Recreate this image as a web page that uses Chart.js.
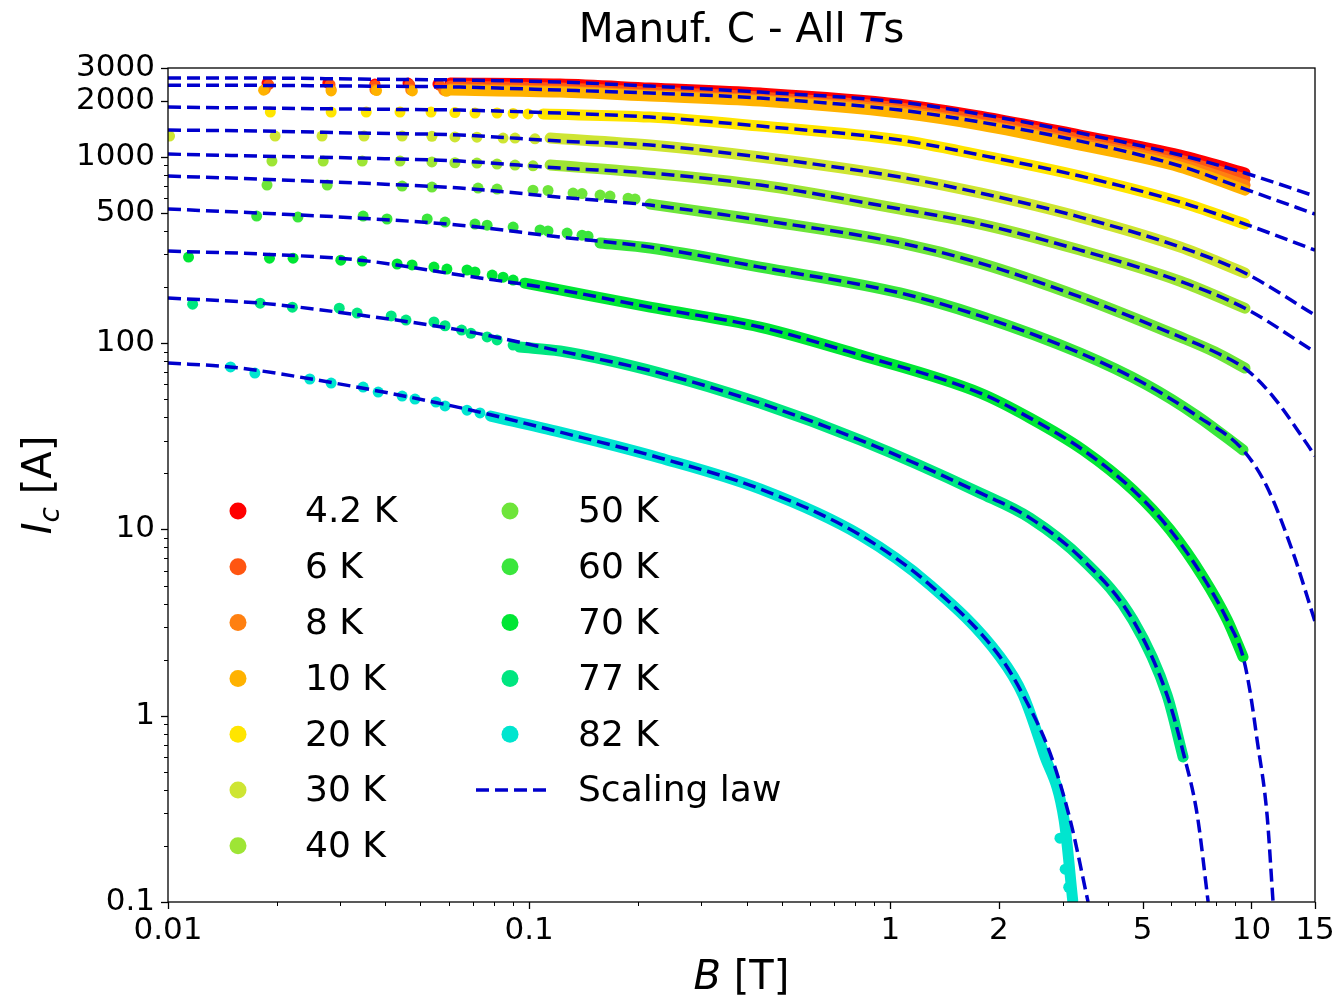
<!DOCTYPE html>
<html>
<head>
<meta charset="utf-8">
<script src="https://cdn.jsdelivr.net/npm/chart.js@4.4.0/dist/chart.umd.min.js"></script>
<style>
    body { margin: 0; background: #fff; }
    #wrap { width: 1335px; height: 998px; }
</style>
</head>
<body>
<div id="wrap"><canvas id="myChart" width="1335" height="998"></canvas></div>
<script>
// Temperatures and colours
const temps = ['4.2 K', '6 K', '8 K', '10 K', '20 K', '30 K', '40 K', '50 K', '60 K', '70 K', '77 K', '82 K'];
const colors = ['#ff0000', '#ff5511', '#ff8011', '#ffb200', '#ffe500', '#cee533', '#9ee535', '#6ee53a', '#3ae63c', '#00e634', '#00e680', '#00e5cf'];

// Axis ticks
const xTicks = [0.01, 0.1, 1, 2, 5, 10, 15];
const xTickLabels = ['0.01', '0.1', '1', '2', '5', '10', '15'];
const yTicks = [0.1, 1, 10, 100, 500, 1000, 2000, 3000];
const yTickLabels = ['0.1', '1', '10', '100', '500', '1000', '2000', '3000'];

// Measured Ic (A) vs B (T): sparse low-field points
const dots42 = [[0.0188, 2490], [0.0277, 2490], [0.0374, 2460], [0.0462, 2490], [0.0559, 2460]];
const dots6 = [[0.0190, 2440], [0.0281, 2440], [0.0374, 2420], [0.0467, 2440], [0.0566, 2420]];
const dots8 = [[0.0186, 2310], [0.0283, 2290], [0.0374, 2300], [0.0470, 2290], [0.0580, 2280]];
const dots10 = [[0.0184, 2280], [0.0283, 2260], [0.0378, 2270], [0.0475, 2260], [0.0590, 2250]];
const dots20 = [[0.0192, 1740], [0.0283, 1740], [0.0354, 1740], [0.0439, 1740], [0.0535, 1740], [0.0623, 1730], [0.0708, 1720], [0.0815, 1720], [0.0903, 1710], [0.0993, 1700]];
const dots30 = [[0.0101, 1293], [0.0198, 1293], [0.0267, 1293], [0.0349, 1293], [0.0445, 1293], [0.0538, 1290], [0.0623, 1280], [0.0717, 1275], [0.0847, 1262], [0.0914, 1262], [0.1038, 1250]];
const dots40 = [[0.0194, 949], [0.0269, 949], [0.0345, 949], [0.0439, 949], [0.0538, 940], [0.0623, 930], [0.0717, 926], [0.0815, 915], [0.0914, 904], [0.1025, 895]];
const dots50 = [[0.0188, 706], [0.0276, 706], [0.0445, 697], [0.0538, 689], [0.0722, 680], [0.0815, 672], [0.1025, 663], [0.1128, 660], [0.1323, 639], [0.1401, 635], [0.1572, 624], [0.1675, 616], [0.1879, 600], [0.1965, 594]];
const dots60 = [[0.0176, 481], [0.0229, 475], [0.0347, 481], [0.0404, 464], [0.0522, 464], [0.0585, 447], [0.0708, 436], [0.0765, 430], [0.0903, 420], [0.1072, 405], [0.1128, 400], [0.1274, 390], [0.1401, 380], [0.1456, 375]];
const dots70 = [[0.0114, 290], [0.0191, 286], [0.0222, 286], [0.0301, 279], [0.0345, 276], [0.0431, 266], [0.0474, 263], [0.0545, 256], [0.0592, 250], [0.0673, 247], [0.0708, 241], [0.0790, 232], [0.0847, 226], [0.0903, 218]];
const dots77 = [[0.0117, 162], [0.0180, 164], [0.0221, 156], [0.0298, 154], [0.0334, 145], [0.0415, 140], [0.0456, 133], [0.0545, 130], [0.0585, 124], [0.0650, 117.5], [0.0690, 113], [0.0765, 108], [0.0815, 104], [0.0903, 97.7]];
const dots82 = [[0.0149, 74.5], [0.0174, 69.1], [0.0247, 64.2], [0.0283, 61.1], [0.0347, 58.1], [0.0382, 54.6], [0.0445, 52.0], [0.0483, 50.1], [0.0552, 48.3], [0.0585, 46.0], [0.0673, 43.7], [0.0731, 42.2], [2.95, 0.22], [3.05, 0.15], [3.12, 0.12]];

// Measured Ic (A) vs B (T): dense part, points so close they form a band
const band42 = [[0.0604, 2490], [0.1218, 2460], [0.2162, 2341], [0.436, 2200], [1.064, 1920], [1.773, 1656], [3.354, 1310], [6.35, 1023], [9.60, 819]];
const band6 = [[0.0604, 2399], [0.1218, 2341], [0.2162, 2227], [0.436, 2094], [1.064, 1828], [1.773, 1576], [3.354, 1246], [6.35, 961], [9.60, 760]];
const band8 = [[0.0604, 2312], [0.1218, 2256], [0.2162, 2147], [0.436, 2018], [1.064, 1761], [1.773, 1500], [3.354, 1186], [6.35, 915], [9.60, 706]];
const band10 = [[0.0604, 2284], [0.1218, 2227], [0.2162, 2121], [0.436, 1993], [1.064, 1718], [1.773, 1482], [3.354, 1157], [6.35, 881], [9.60, 663]];
const band20 = [[0.1093, 1697], [0.2162, 1635], [0.436, 1463], [1.064, 1231], [1.773, 1023], [3.354, 789], [6.35, 572], [9.60, 436]];
const band30 = [[0.1143, 1262], [0.2162, 1157], [0.436, 998], [1.064, 779], [1.773, 640], [3.354, 475], [6.35, 328], [9.60, 238]];
const band40 = [[0.1143, 904], [0.2162, 818], [0.436, 706], [1.064, 525], [1.773, 436], [3.354, 316], [6.35, 215], [9.60, 154]];
const band50 = [[0.2162, 558], [0.436, 458], [1.064, 345], [1.773, 269], [3.354, 177], [6.35, 108], [7.93, 89.6], [9.60, 73.5]];
const band60 = [[0.1572, 345], [0.2162, 324], [0.436, 256], [1.064, 186], [1.773, 140], [3.354, 88.5], [5.14, 59.6], [7.08, 40.6], [9.48, 26.7]];
const band70 = [[0.0972, 210], [0.1218, 193], [0.2162, 156], [0.436, 122], [0.825, 86.3], [1.773, 54.0], [2.44, 39.6], [3.42, 26.7], [4.70, 16.3], [5.96, 9.93], [7.35, 5.55], [8.57, 3.27], [9.48, 2.07]];
const band77 = [[0.094, 95.3], [0.1218, 90.7], [0.2304, 69.1], [0.436, 47.7], [0.825, 30.2], [1.773, 15.7], [2.44, 11.5], [3.42, 6.85], [4.70, 3.26], [5.84, 1.29], [6.47, 0.6]];
const band82 = [[0.0782, 40.6], [0.1218, 33.3], [0.2304, 24.2], [0.436, 16.5], [0.825, 9.33], [1.289, 5.03], [2.014, 2.07], [2.333, 1.29], [2.66, 0.63], [3.03, 0.275], [3.2, 0.102]];

// Scaling law curves
const fit42 = [[0.01, 2650], [0.018, 2650], [0.034, 2616], [0.0644, 2585], [0.1218, 2520], [0.2162, 2399], [0.436, 2227], [1.064, 1968], [1.773, 1697], [3.354, 1342], [6.35, 1023], [9.6, 819], [15, 616]];
const fit10 = [[0.01, 2427], [0.018, 2420], [0.034, 2399], [0.0644, 2370], [0.1218, 2284], [0.2162, 2200], [0.436, 2068], [1.064, 1783], [1.773, 1538], [3.354, 1215], [6.35, 893], [9.6, 672], [15, 493]];
const fit20 = [[0.01, 1851], [0.018, 1828], [0.034, 1805], [0.0644, 1783], [0.1218, 1718], [0.2162, 1635], [0.436, 1463], [1.064, 1231], [1.773, 1023], [3.354, 789], [6.35, 572], [9.6, 436], [15, 316]];
const fit30 = [[0.01, 1393], [0.018, 1376], [0.034, 1342], [0.0644, 1310], [0.1218, 1216], [0.2162, 1157], [0.436, 998], [1.064, 779], [1.773, 640], [3.354, 475], [6.35, 328], [9.6, 238], [15, 141.5]];
const fit40 = [[0.01, 1035], [0.018, 1010], [0.034, 985], [0.0644, 949], [0.1218, 871], [0.2162, 818], [0.436, 706], [1.064, 525], [1.773, 436], [3.354, 316], [6.35, 215], [9.6, 154], [15, 89.6]];
const fit50 = [[0.01, 789], [0.018, 760], [0.034, 723], [0.0644, 680], [0.1218, 608], [0.2162, 551], [0.436, 458], [1.064, 345], [1.773, 269], [3.354, 177], [6.35, 108], [7.93, 89.6], [9.73, 71.7], [11.63, 50.1], [13.9, 30.9], [15, 24.8]];
const fit60 = [[0.01, 525], [0.018, 499], [0.034, 469], [0.0644, 430], [0.1218, 371], [0.2162, 328], [0.436, 256], [1.064, 186], [1.773, 140], [3.354, 88.5], [5.14, 59.6], [7.08, 40.6], [9.48, 26.7], [11.05, 16.9], [13.05, 7.47], [15, 3.2]];
const fit70 = [[0.01, 312], [0.018, 301], [0.034, 279], [0.0644, 232], [0.1218, 193], [0.2162, 156], [0.436, 122], [0.825, 86.3], [1.773, 54.0], [2.44, 39.6], [3.42, 26.7], [4.70, 16.3], [5.96, 9.93], [7.35, 5.55], [8.57, 3.27], [9.48, 2.07], [9.92, 1.34], [10.37, 0.741], [11.05, 0.293], [11.48, 0.1]];
const fit77 = [[0.01, 174.6], [0.018, 164], [0.034, 141.5], [0.0644, 117.5], [0.1218, 90.7], [0.2304, 69.1], [0.436, 47.7], [0.825, 30.2], [1.773, 15.7], [2.44, 11.5], [3.42, 6.85], [4.70, 3.26], [5.84, 1.29], [6.47, 0.638], [7.08, 0.293], [7.59, 0.1]];
const fit82 = [[0.01, 78.2], [0.01485, 74.5], [0.0279, 61.8], [0.0652, 44.8], [0.1218, 33.3], [0.2304, 24.2], [0.436, 16.5], [0.825, 9.33], [1.289, 5.03], [2.014, 2.07], [2.333, 1.29], [2.77, 0.63], [3.15, 0.275], [3.53, 0.1]];

const dots = [dots42, dots6, dots8, dots10, dots20, dots30, dots40, dots50, dots60, dots70, dots77, dots82];
const bands = [band42, band6, band8, band10, band20, band30, band40, band50, band60, band70, band77, band82];
const fits = [fit42, fit10, fit20, fit30, fit40, fit50, fit60, fit70, fit77, fit82];

const FONT = '"DejaVu Sans", sans-serif';
const FIT_COLOR = '#0000cd';

function toXY(pairs) {
    return pairs.map(p => ({ x: p[0], y: p[1] }));
}

// Build datasets: dots + band for each T, dashed fits on top
const datasets = [];
temps.forEach((t, i) => {
    datasets.push({
        label: t, data: toXY(dots[i]), showLine: false,
        pointRadius: 5.5, pointBorderWidth: 0, pointBackgroundColor: colors[i],
        order: 40 - i, clip: 0
    });
    datasets.push({
        label: t, data: toXY(bands[i]), showLine: true, pointRadius: 0,
        borderColor: colors[i], borderWidth: 11, borderCapStyle: 'round', borderJoinStyle: 'round',
        cubicInterpolationMode: 'monotone', order: 40 - i, clip: 0
    });
});
fits.forEach(f => {
    datasets.push({
        label: 'Scaling law', data: toXY(f), showLine: true, pointRadius: 0,
        borderColor: FIT_COLOR, borderWidth: 3.5, borderDash: [13, 6],
        cubicInterpolationMode: 'monotone', order: 0, clip: 0
    });
});

// Draw text run with mixed styles
function runWidth(ctx, parts) {
    let w = 0;
    parts.forEach(p => { ctx.font = p.font; w += ctx.measureText(p.text).width; });
    return w;
}
function drawRun(ctx, parts, x, y) {
    parts.forEach(p => {
        ctx.font = p.font;
        ctx.fillText(p.text, x, y + (p.dy || 0));
        x += ctx.measureText(p.text).width;
    });
}

// Frame, tick marks, title, axis labels and legend
const decor = {
    id: 'decor',
    afterDraw(chart) {
        const { ctx, chartArea: a, scales } = chart;
        const xs = scales.x, ys = scales.y;
        ctx.save();
        ctx.strokeStyle = '#000';
        ctx.lineWidth = 1.3;
        ctx.strokeRect(a.left, a.top, a.right - a.left, a.bottom - a.top);

        const tick = (px, py, dx, dy) => {
            ctx.beginPath(); ctx.moveTo(px, py); ctx.lineTo(px + dx, py + dy); ctx.stroke();
        };
        xTicks.forEach(v => tick(Math.round(xs.getPixelForValue(v)) + 0.5, a.bottom, 0, 7));
        yTicks.forEach(v => tick(a.left, Math.round(ys.getPixelForValue(v)) + 0.5, -7, 0));
        ctx.lineWidth = 1;
        for (let e = -2; e <= 1; e++) {
            for (let m = 2; m <= 9; m++) {
                const v = m * Math.pow(10, e);
                if (v < 15 && !(e === 0 && (m === 2 || m === 5))) tick(Math.round(xs.getPixelForValue(v)) + 0.5, a.bottom, 0, 4);
            }
        }
        for (let e = -1; e <= 3; e++) {
            for (let m = 2; m <= 9; m++) {
                const v = m * Math.pow(10, e);
                if (v < 3000 && !(e === 2 && m === 5) && !(e === 3 && m === 2)) tick(a.left, Math.round(ys.getPixelForValue(v)) + 0.5, -4, 0);
            }
        }

        ctx.fillStyle = '#000';
        ctx.textBaseline = 'alphabetic';
        ctx.textAlign = 'left';
        const cx = (a.left + a.right) / 2;

        // Title
        const title = [
            { text: 'Manuf. C - All ', font: '40.5px ' + FONT },
            { text: 'T', font: 'italic 40.5px ' + FONT },
            { text: 's', font: '40.5px ' + FONT }
        ];
        drawRun(ctx, title, cx - runWidth(ctx, title) / 2, 42);

        // x label
        const xl = [
            { text: 'B', font: 'italic 40px ' + FONT },
            { text: ' [T]', font: '40px ' + FONT }
        ];
        drawRun(ctx, xl, cx - runWidth(ctx, xl) / 2, 989);

        // y label
        const yl = [
            { text: 'I', font: 'italic 40px ' + FONT },
            { text: 'c', font: 'italic 28px ' + FONT, dy: 8 },
            { text: ' [A]', font: '40px ' + FONT }
        ];
        ctx.save();
        ctx.translate(51, (a.top + a.bottom) / 2);
        ctx.rotate(-Math.PI / 2);
        drawRun(ctx, yl, -runWidth(ctx, yl) / 2, 0);
        ctx.restore();

        // Legend
        ctx.font = '36px ' + FONT;
        ctx.textBaseline = 'middle';
        const rowY = i => 511 + i * 55.8;
        temps.forEach((t, i) => {
            const col = i < 7 ? 0 : 1;
            const row = i < 7 ? i : i - 7;
            const mx = col === 0 ? 238 : 510;
            const tx = col === 0 ? 305 : 578;
            ctx.fillStyle = colors[i];
            ctx.beginPath(); ctx.arc(mx, rowY(row), 8.5, 0, Math.PI * 2); ctx.fill();
            ctx.fillStyle = '#000';
            ctx.fillText(t, tx, rowY(row) + 2);
        });
        ctx.strokeStyle = FIT_COLOR;
        ctx.lineWidth = 3.5;
        ctx.setLineDash([13, 6]);
        ctx.beginPath(); ctx.moveTo(476, rowY(5)); ctx.lineTo(550, rowY(5)); ctx.stroke();
        ctx.setLineDash([]);
        ctx.fillStyle = '#000';
        ctx.fillText('Scaling law', 578, rowY(5) + 2);
        ctx.restore();
    }
};

const ctx = document.getElementById('myChart').getContext('2d');
const myChart = new Chart(ctx, {
    type: 'scatter',
    data: { datasets },
    options: {
        responsive: false,
        animation: false,
        events: [],
        devicePixelRatio: 1,
        layout: { padding: { top: 68, right: 20, left: 0, bottom: 0 } },
        plugins: { legend: { display: false }, tooltip: { enabled: false }, title: { display: false } },
        scales: {
            x: {
                type: 'logarithmic', min: 0.01, max: 15,
                afterBuildTicks: s => { s.ticks = xTicks.map(v => ({ value: v })); },
                afterFit: s => { s.height = 96; s.paddingLeft = 0; s.paddingRight = 0; },
                grid: { display: false, drawTicks: false },
                border: { display: false },
                ticks: {
                    autoSkip: false, maxRotation: 0, padding: 10, color: '#000',
                    font: { family: FONT, size: 31 },
                    callback: v => xTickLabels[xTicks.indexOf(v)]
                }
            },
            y: {
                type: 'logarithmic', min: 0.1, max: 3000,
                afterBuildTicks: s => { s.ticks = yTicks.map(v => ({ value: v })); },
                afterFit: s => { s.width = 168; s.paddingTop = 0; s.paddingBottom = 0; },
                grid: { display: false, drawTicks: false },
                border: { display: false },
                ticks: {
                    autoSkip: false, padding: 13, color: '#000',
                    font: { family: FONT, size: 31 },
                    callback: v => yTickLabels[yTicks.indexOf(v)]
                }
            }
        }
    },
    plugins: [decor]
});
</script>
</body>
</html>
